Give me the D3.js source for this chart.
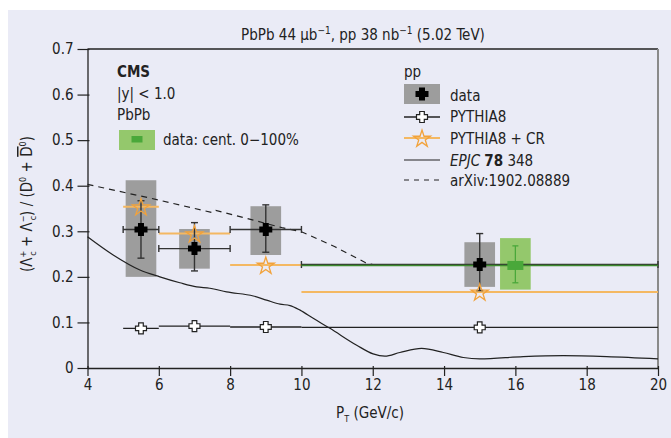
<!DOCTYPE html>
<html>
<head>
<meta charset="utf-8">
<script src="https://cdn.jsdelivr.net/npm/d3@7"></script>
<style>
  body { margin: 0; background: #fff; }
  svg text { font-family: "Liberation Sans Narrow", "DejaVu Sans Condensed", "Roboto", sans-serif; fill: #222; }
</style>
</head>
<body>
<svg id="chart" width="671" height="438"></svg>
<script>
// pp data (CMS)
const ppX = [5.5, 7, 9, 15];
const ppBinLo = [5, 6, 8, 10];
const ppBinHi = [6, 8, 10, 20];
const ppY = [0.304, 0.262, 0.304, 0.227];
const ppStatLo = [0.241, 0.213, 0.254, 0.170];
const ppStatHi = [0.367, 0.319, 0.358, 0.295];
const ppSysLo = [0.200, 0.218, 0.248, 0.178];
const ppSysHi = [0.412, 0.305, 0.355, 0.276];

// PbPb data, shown shifted to 16
const pbX = [16];
const pbBinLo = [10];
const pbBinHi = [20];
const pbY = [0.225];
const pbStatLo = [0.187];
const pbStatHi = [0.268];
const pbSysLo = [0.172];
const pbSysHi = [0.285];

// PYTHIA8 models (per bin)
const pyBinLo = [5, 6, 8, 10];
const pyBinHi = [6, 8, 10, 20];
const pyMarkX = [5.5, 7, 9, 15];
const pythia8 = [0.087, 0.092, 0.090, 0.089];
const pythia8CR = [0.354, 0.295, 0.226, 0.167];

// EPJC 78 348 curve
const epjcX = [4.0, 4.72, 5.47, 6.03, 6.59, 7.06, 7.43, 7.9, 8.65, 9.02, 9.4, 9.68, 9.96, 10.33, 10.8, 11.55, 12.01, 12.34, 12.76, 13.37, 13.98, 14.54, 15.0, 16.22, 17.34, 18.56, 20];
const epjcY = [0.288, 0.248, 0.215, 0.200, 0.187, 0.178, 0.175, 0.167, 0.158, 0.149, 0.140, 0.137, 0.127, 0.109, 0.087, 0.050, 0.031, 0.026, 0.034, 0.043, 0.034, 0.023, 0.020, 0.025, 0.027, 0.025, 0.020];

// arXiv:1902.08889 curve
const arxX = [4, 5.8, 7.5, 7.6, 9.45, 10.0, 10.94, 11.8, 12];
const arxY = [0.403, 0.372, 0.341, 0.346, 0.308, 0.299, 0.266, 0.231, 0.227];

const xTicks = [4, 6, 8, 10, 12, 14, 16, 18, 20];
const yTicks = [0, 0.1, 0.2, 0.3, 0.4, 0.5, 0.6, 0.7];

const svg = d3.select('#chart');
const margin = { top: 49, right: 13, bottom: 70, left: 87.5 };
const width = 671, height = 438;

const grey = '#9d9d9d', orange = '#f2a23a', orangeLine = '#f4b862';
const green = '#94c86c', greenDark = '#4aa83a';

svg.append('rect').attr('x', 8).attr('y', 10).attr('width', width - 8).attr('height', height - 10)
  .attr('fill', '#eaebf6');

const x = d3.scaleLinear().domain([4, 20]).range([margin.left, width - margin.right]);
const y = d3.scaleLinear().domain([0, 0.7]).range([height - margin.bottom, margin.top]);

// frame top and right
svg.append('line').attr('x1', x(4)).attr('x2', x(20)).attr('y1', y(0.7)).attr('y2', y(0.7))
  .attr('stroke', '#222').attr('stroke-width', 1.3);
svg.append('line').attr('x1', x(20)).attr('x2', x(20)).attr('y1', y(0.7)).attr('y2', y(0))
  .attr('stroke', '#8a8a8a').attr('stroke-width', 2);

const xAxis = svg.append('g').attr('transform', `translate(0,${y(0)})`)
  .call(d3.axisBottom(x).tickValues(xTicks).tickSizeInner(8).tickSizeOuter(0).tickPadding(3));
const yAxis = svg.append('g').attr('transform', `translate(${x(4)},0)`)
  .call(d3.axisLeft(y).tickValues(yTicks).tickSizeInner(10).tickSizeOuter(0).tickPadding(4)
    .tickFormat(d => d === 0 ? '0' : d3.format('.1f')(d)));
[xAxis, yAxis].forEach(a => {
  a.selectAll('path').attr('stroke', '#222').attr('stroke-width', 1.3);
  a.selectAll('line').attr('stroke', '#222').attr('stroke-width', 1.2);
  a.selectAll('text').attr('font-size', 15).attr('fill', '#222')
    .style('font-family', '"Liberation Sans Narrow", "DejaVu Sans Condensed", sans-serif');
});
yAxis.selectAll('.tick line').attr('x2', -10).attr('x1', 2);
xAxis.selectAll('.tick line').attr('y1', -2);

// title
const title = svg.append('text').attr('x', 363).attr('y', 40).attr('text-anchor', 'middle').attr('font-size', 15);
title.append('tspan').text('PbPb 44 μb');
title.append('tspan').attr('font-size', 10).attr('dy', -6).text('−1');
title.append('tspan').attr('dy', 6).text(', pp 38 nb');
title.append('tspan').attr('font-size', 10).attr('dy', -6).text('−1');
title.append('tspan').attr('dy', 6).text(' (5.02 TeV)');

// x label
const xl = svg.append('text').attr('x', 370).attr('y', 418).attr('text-anchor', 'middle').attr('font-size', 15);
xl.append('tspan').text('P');
xl.append('tspan').attr('font-size', 9).attr('dy', 4).text('T');
xl.append('tspan').attr('dy', -4).text(' (GeV/c)');

// y label
const yl = svg.append('text').attr('transform', 'translate(32,204) rotate(-90)').attr('text-anchor', 'middle').attr('font-size', 15);
yl.append('tspan').text('(Λ');
yl.append('tspan').attr('font-size', 9).attr('dy', -6).text('+');
yl.append('tspan').attr('font-size', 9).attr('dx', -5).attr('dy', 10).text('c');
yl.append('tspan').attr('dy', -4).text(' + Λ');
yl.append('tspan').attr('font-size', 9).attr('dy', -6).text('−');
yl.append('tspan').attr('font-size', 9).attr('dx', -5).attr('dy', 10).text('c');
yl.append('tspan').attr('dy', -4).text(') / (D');
yl.append('tspan').attr('font-size', 9).attr('dy', -6).text('0');
yl.append('tspan').attr('dy', 6).text(' + ');
yl.append('tspan').style('text-decoration', 'overline').text('D');
yl.append('tspan').attr('font-size', 9).attr('dy', -6).text('0');
yl.append('tspan').attr('dy', 6).text(')');

const plot = svg.append('g');

// systematic boxes
const boxHalf = 0.43;
plot.selectAll('rect.ppsys').data(ppX).enter().append('rect')
  .attr('x', d => x(d - boxHalf)).attr('width', d => x(d + boxHalf) - x(d - boxHalf))
  .attr('y', (d, i) => y(ppSysHi[i])).attr('height', (d, i) => y(ppSysLo[i]) - y(ppSysHi[i]))
  .attr('fill', grey);
plot.selectAll('rect.pbsys').data(pbX).enter().append('rect')
  .attr('x', d => x(d - boxHalf)).attr('width', d => x(d + boxHalf) - x(d - boxHalf))
  .attr('y', (d, i) => y(pbSysHi[i])).attr('height', (d, i) => y(pbSysLo[i]) - y(pbSysHi[i]))
  .attr('fill', green);

// EPJC curve
const line = d3.line().x(d => x(d[0])).y(d => y(d[1])).curve(d3.curveMonotoneX);
plot.append('path').datum(epjcX.map((v, i) => [v, epjcY[i]])).attr('d', line)
  .attr('fill', 'none').attr('stroke', '#222').attr('stroke-width', 1.2);
// arXiv curve
plot.append('path').datum(arxX.map((v, i) => [v, arxY[i]])).attr('d', d3.line().x(d => x(d[0])).y(d => y(d[1])))
  .attr('fill', 'none').attr('stroke', '#222').attr('stroke-width', 1.2).attr('stroke-dasharray', '6,5');

// PYTHIA8 lines
plot.selectAll('line.py').data(pythia8).enter().append('line')
  .attr('x1', (d, i) => x(pyBinLo[i])).attr('x2', (d, i) => x(pyBinHi[i]))
  .attr('y1', d => y(d)).attr('y2', d => y(d)).attr('stroke', '#222').attr('stroke-width', 1.3);
plot.selectAll('line.pycr').data(pythia8CR).enter().append('line')
  .attr('x1', (d, i) => x(pyBinLo[i])).attr('x2', (d, i) => x(pyBinHi[i]))
  .attr('y1', d => y(d)).attr('y2', d => y(d)).attr('stroke', orangeLine).attr('stroke-width', 2);

// pp error bars
function errorBars(g, xs, lo, hi, ys, bl, bh, color, cap) {
  xs.forEach((xv, i) => {
    g.append('line').attr('x1', x(bl[i])).attr('x2', x(bh[i])).attr('y1', y(ys[i])).attr('y2', y(ys[i]))
      .attr('stroke', color).attr('stroke-width', 1.4);
    [bl[i], bh[i]].forEach(b => g.append('line').attr('x1', x(b)).attr('x2', x(b))
      .attr('y1', y(ys[i]) - cap).attr('y2', y(ys[i]) + cap).attr('stroke', color).attr('stroke-width', 1.4));
    g.append('line').attr('x1', x(xv)).attr('x2', x(xv)).attr('y1', y(lo[i])).attr('y2', y(hi[i]))
      .attr('stroke', color).attr('stroke-width', 1.4);
    [lo[i], hi[i]].forEach(b => g.append('line').attr('x1', x(xv) - cap).attr('x2', x(xv) + cap)
      .attr('y1', y(b)).attr('y2', y(b)).attr('stroke', color).attr('stroke-width', 1.4));
  });
}
errorBars(plot, ppX, ppStatLo, ppStatHi, ppY, ppBinLo, ppBinHi, '#333', 3.5);
// PbPb: horizontal bin bar without caps, vertical bar with caps
pbX.forEach((xv, i) => {
  plot.append('line').attr('x1', x(pbBinLo[i])).attr('x2', x(pbBinHi[i])).attr('y1', y(pbY[i])).attr('y2', y(pbY[i]))
    .attr('stroke', '#3d8a2e').attr('stroke-width', 1.4);
  plot.append('line').attr('x1', x(xv)).attr('x2', x(xv)).attr('y1', y(pbStatLo[i])).attr('y2', y(pbStatHi[i]))
    .attr('stroke', greenDark).attr('stroke-width', 1.3);
  [pbStatLo[i], pbStatHi[i]].forEach(b => plot.append('line').attr('x1', x(xv) - 3).attr('x2', x(xv) + 3)
    .attr('y1', y(b)).attr('y2', y(b)).attr('stroke', greenDark).attr('stroke-width', 1.3));
  plot.append('rect').attr('x', x(xv) - 8).attr('y', y(pbY[i]) - 4.5).attr('width', 16).attr('height', 9)
    .attr('fill', greenDark);
});

// markers: chunky plus shapes
function plusType(len, half) {
  return {
    draw(ctx) {
      ctx.moveTo(-half, -len); ctx.lineTo(half, -len); ctx.lineTo(half, -half); ctx.lineTo(len, -half);
      ctx.lineTo(len, half); ctx.lineTo(half, half); ctx.lineTo(half, len); ctx.lineTo(-half, len);
      ctx.lineTo(-half, half); ctx.lineTo(-len, half); ctx.lineTo(-len, -half); ctx.lineTo(-half, -half);
      ctx.closePath();
    }
  };
}
const crossFilled = d3.symbol(plusType(6.5, 3));
const crossOpen = d3.symbol(plusType(5.5, 2.3));
const star = d3.symbol(d3.symbolStar, 90);
plot.selectAll('path.pym').data(pythia8).enter().append('path')
  .attr('transform', (d, i) => `translate(${x(pyMarkX[i])},${y(d)})`).attr('d', crossOpen)
  .attr('fill', '#fff').attr('stroke', '#222').attr('stroke-width', 1.2);
plot.selectAll('path.crm').data(pythia8CR).enter().append('path')
  .attr('transform', (d, i) => `translate(${x(pyMarkX[i])},${y(d) + 1})`).attr('d', star)
  .attr('fill', 'none').attr('stroke', orange).attr('stroke-width', 1.3);
plot.selectAll('path.ppm').data(ppY).enter().append('path')
  .attr('transform', (d, i) => `translate(${x(ppX[i])},${y(d)})`).attr('d', crossFilled)
  .attr('fill', '#000');

// left legend
const fs = 15;
svg.append('text').attr('x', 117).attr('y', 77).attr('font-size', fs).attr('font-weight', 'bold').text('CMS');
svg.append('text').attr('x', 117).attr('y', 99).attr('font-size', fs).text('|y| < 1.0');
svg.append('text').attr('x', 117).attr('y', 120).attr('font-size', fs).text('PbPb');
svg.append('rect').attr('x', 119).attr('y', 130).attr('width', 36).attr('height', 20).attr('fill', green);
svg.append('rect').attr('x', 131.5).attr('y', 136).attr('width', 11).attr('height', 6.5).attr('fill', greenDark);
svg.append('text').attr('x', 163).attr('y', 145).attr('font-size', fs).text('data: cent. 0−100%');

// right legend
const lx = 404, tx = 450;
svg.append('text').attr('x', lx).attr('y', 77).attr('font-size', fs).text('pp');
svg.append('rect').attr('x', lx).attr('y', 84).attr('width', 36).attr('height', 20).attr('fill', grey);
svg.append('path').attr('transform', `translate(${lx + 18},94)`).attr('d', crossFilled).attr('fill', '#000');
svg.append('text').attr('x', tx).attr('y', 101).attr('font-size', fs).text('data');

svg.append('line').attr('x1', lx).attr('x2', lx + 36).attr('y1', 117).attr('y2', 117).attr('stroke', '#222').attr('stroke-width', 1.3);
svg.append('path').attr('transform', `translate(${lx + 18},117)`).attr('d', crossOpen)
  .attr('fill', '#fff').attr('stroke', '#222').attr('stroke-width', 1.2);
svg.append('text').attr('x', tx).attr('y', 122).attr('font-size', fs).text('PYTHIA8');

svg.append('line').attr('x1', lx).attr('x2', lx + 36).attr('y1', 138).attr('y2', 138).attr('stroke', orangeLine).attr('stroke-width', 2);
svg.append('path').attr('transform', `translate(${lx + 18},139)`).attr('d', star)
  .attr('fill', 'none').attr('stroke', orange).attr('stroke-width', 1.3);
svg.append('text').attr('x', tx).attr('y', 144).attr('font-size', fs).text('PYTHIA8 + CR');

svg.append('line').attr('x1', lx).attr('x2', lx + 36).attr('y1', 160).attr('y2', 160).attr('stroke', '#222').attr('stroke-width', 1.2);
const ep = svg.append('text').attr('x', tx).attr('y', 166).attr('font-size', fs);
ep.append('tspan').attr('font-style', 'italic').text('EPJC ');
ep.append('tspan').attr('font-weight', 'bold').text('78');
ep.append('tspan').text(' 348');

svg.append('line').attr('x1', lx).attr('x2', lx + 36).attr('y1', 180).attr('y2', 180).attr('stroke', '#222')
  .attr('stroke-width', 1.2).attr('stroke-dasharray', '5,5');
svg.append('text').attr('x', tx).attr('y', 186).attr('font-size', fs).text('arXiv:1902.08889');
</script>
</body>
</html>
